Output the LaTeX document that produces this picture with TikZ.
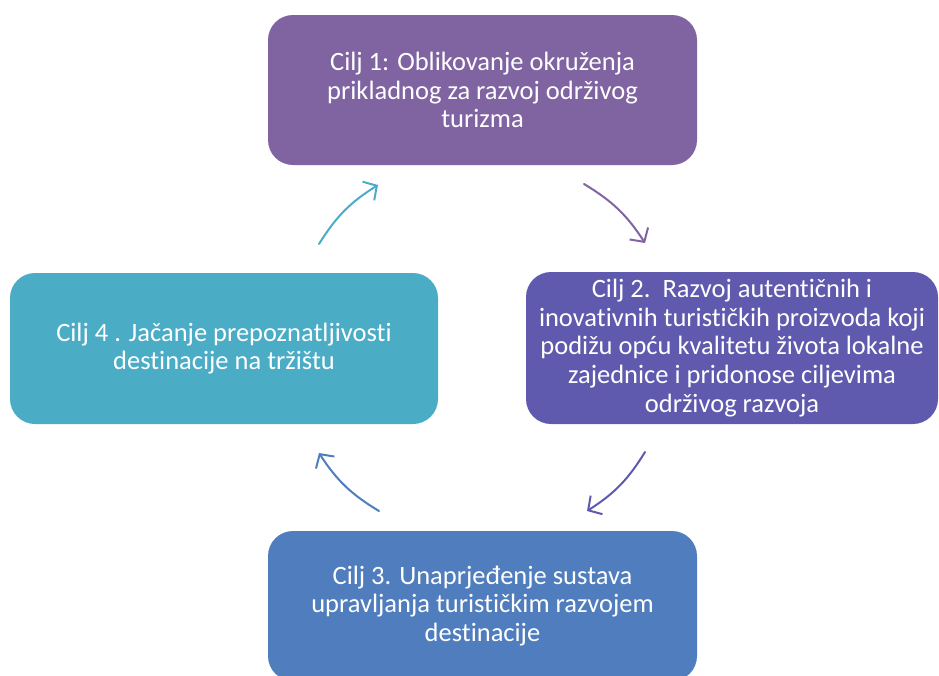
\documentclass[tikz,border=0pt]{standalone}
\usepackage{fontspec}
\setmainfont{Carlito}[Ligatures=NoCommon]
\usetikzlibrary{arrows.meta}
\definecolor{cA}{HTML}{8064A2}
\definecolor{cB}{HTML}{5F5AAD}
\definecolor{cC}{HTML}{4F7DBD}
\definecolor{cD}{HTML}{4BACC6}
\tikzset{
  goalbox/.style={rounded corners=25pt, inner sep=0pt, text=white, align=center,
    font=\fontsize{26.5}{28.6}\selectfont},
  cyc/.style={line width=2pt, line cap=round,
    -{Straight Barb[length=10pt,width=22pt,line width=2pt]}, bend left=13}
}
\begin{document}
\begin{tikzpicture}[x=1pt,y=1pt]
\useasboundingbox (0,0) rectangle (939,-675);
\node[goalbox, fill=cA, minimum width=429pt, minimum height=150pt] (g1) at (482.5,-90)
  {Cilj 1: Oblikovanje okruženja\\prikladnog za razvoj održivog\\turizma};
\node[goalbox, fill=cB, minimum width=412pt, minimum height=152pt] (g2) at (732,-348)
  {Cilj 2.\ \ Razvoj autentičnih i\\inovativnih turističkih proizvoda koji\\podižu opću kvalitetu života lokalne\\zajednice i pridonose ciljevima\\održivog razvoja};
\node[goalbox, fill=cC, minimum width=429pt, minimum height=150pt] (g3) at (482.5,-606)
  {Cilj 3. Unaprjeđenje sustava\\upravljanja turističkim razvojem\\destinacije};
\node[goalbox, fill=cD, minimum width=428pt, minimum height=151pt] (g4) at (224,-348.5)
  {Cilj 4 . Jačanje prepoznatljivosti\\destinacije na tržištu};
\coordinate (a1s) at (584,-184);
\coordinate (a1e) at (645,-243);
\coordinate (a2s) at (645,-452);
\coordinate (a2e) at (587,-511);
\coordinate (a3s) at (379,-511);
\coordinate (a3e) at (319,-453);
\coordinate (a4s) at (319,-244);
\coordinate (a4e) at (378,-185);
\draw[cyc, cA] (a1s) to (a1e);
\draw[cyc, cB] (a2s) to (a2e);
\draw[cyc, cC] (a3s) to (a3e);
\draw[cyc, cD] (a4s) to (a4e);
\end{tikzpicture}
\end{document}
